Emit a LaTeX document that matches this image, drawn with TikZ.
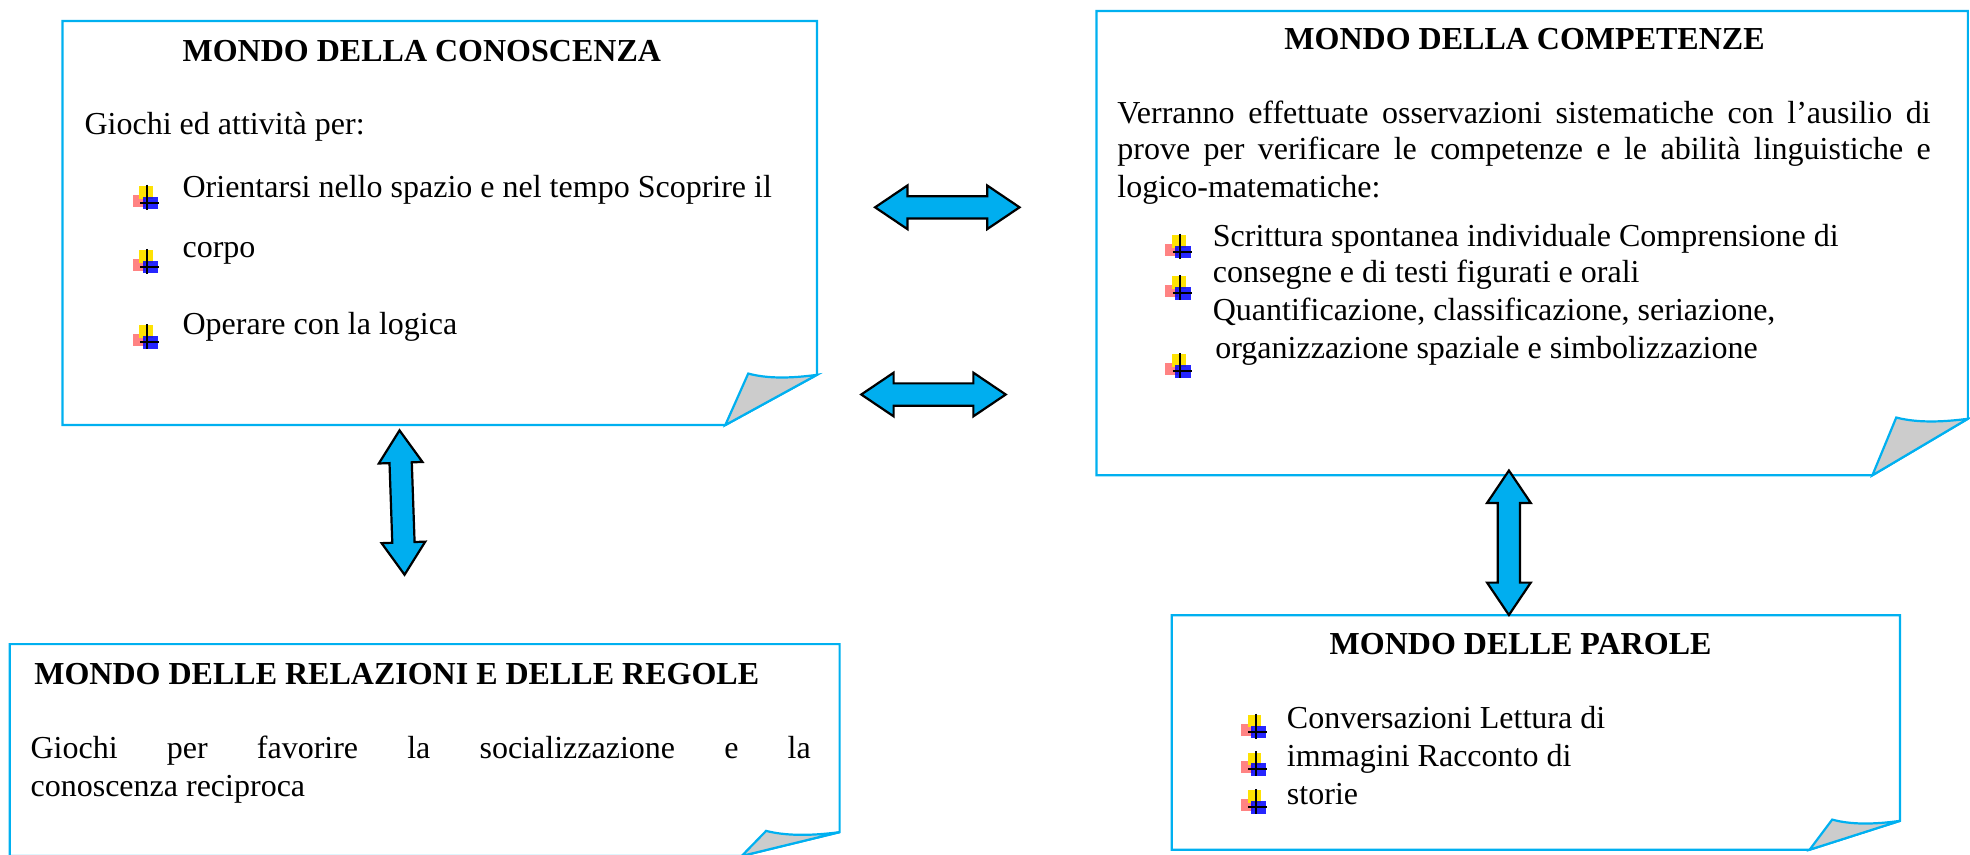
\documentclass[tikz,border=0pt]{standalone}
\usepackage{fontspec}
\setmainfont{Liberation Serif}
\usetikzlibrary{shapes.arrows,positioning,calc}
\definecolor{noteblue}{RGB}{0,176,240}
\definecolor{arrowblue}{RGB}{0,174,239}
\definecolor{foldgray}{RGB}{204,204,204}
\newcommand\bodyfont{\fontsize{14.5}{17}\selectfont}
\newcommand\notefold[3]{%
  \draw[noteline] (#1.north west)--(#1.north east)--($(#1.south east)+(0,-#3)$)--($(#1.south east)+(-#2,0)$)--(#1.south west)--cycle;%%
  \filldraw[noteline,fill=foldgray] ($(#1.south east)+(-#2,0)$)--($(#1.south east)+(-#2*0.75,-#3-1)$) .. controls ($(#1.south east)+(-#2*0.5,-#3+4)$) and ($(#1.south east)+(-#2*0.2,-#3+2)$) .. ($(#1.south east)+(0,-#3)$)--cycle;%%
}
\newcommand\plusmark[1]{%
  \begin{scope}[shift={#1}]
  \fill[red!75,opacity=.65] (-10.5,-2) rectangle (-0.5,7.5);%%
  \fill[yellow!85!orange] (-5,-9) rectangle (6,1);%%
  \fill[blue,opacity=.85] (-2.5,-0.5) rectangle (10,9.5);%%
  \draw[line width=.9pt] (1.3,-10)--(1.3,10) (-4.5,4.3)--(10.5,4.3);%%
  \end{scope}}

\begin{document}
\begin{tikzpicture}[x=0.02cm,y=-0.02cm,
  noteline/.style={draw=noteblue,line width=1pt},
  dbl/.style={double arrow,draw=black,fill=arrowblue,line width=1pt,inner sep=0.16cm,
    minimum height=2.3cm,double arrow head extend=0.17cm,double arrow tip angle=68}]%
        \useasboundingbox (0,0) rectangle (1568,680);%
        \begin{scope}[inner sep=0pt]
        \tikzstyle{every node}=[draw=none,shape=rectangle] %%
        \node[minimum width=12cm,minimum height=6.42cm] (kno) at (350,177.5) {}; %%
        \node[minimum width=13.86cm,minimum height=7.38cm] (com) at (1219.5,193.5) {}; %%
        \node[minimum width=13.2cm,minimum height=3.36cm] (rel) at (338,597) {}; %%
        \node[minimum width=11.58cm,minimum height=3.72cm] (par) at (1222.5,583) {}; %%
        \end{scope}
        \notefold{kno}{73}{40}%
        \notefold{com}{76}{45}%
        \notefold{rel}{78}{19}%
        \notefold{par}{72}{23}%
        \begin{scope}[inner sep=0pt]
        \tikzstyle{every node}=[anchor=base west,font=\bodyfont] %%
        \node (kt) at (145,49) {\bfseries MONDO DELLA CONOSCENZA}; %%
        \node (k0) at (67,107) {Giochi ed attività per:}; %%
        \node (k1) at (145,157) {Orientarsi nello spazio e nel tempo Scoprire il}; %%
        \node (k2) at (145,205) {corpo}; %%
        \node (k3) at (145,266) {Operare con la logica}; %%
        \node (ct) at (1022,39) {\bfseries MONDO DELLA COMPETENZE}; %%
        \node (c0) at (889,98) {\makebox[12.95cm][s]{Verranno effettuate osservazioni sistematiche con l’ausilio di}}; %%
        \node (c1) at (889,127) {\makebox[12.95cm][s]{prove per verificare le competenze e le abilità linguistiche e}}; %%
        \node (c2) at (889,157) {logico-matematiche:}; %%
        \node (c3) at (965,196) {Scrittura spontanea individuale Comprensione di}; %%
        \node (c4) at (965,225) {consegne e di testi figurati e orali}; %%
        \node (c5) at (965,255) {Quantificazione, classificazione, seriazione,}; %%
        \node (c6) at (967,285) {organizzazione spaziale e simbolizzazione}; %%
        \node (rt) at (27,545) {\bfseries MONDO DELLE RELAZIONI E DELLE REGOLE}; %%
        \node (r0) at (24,604) {\makebox[12.42cm][s]{Giochi per favorire la socializzazione e la}}; %%
        \node (r1) at (24,634) {conoscenza reciproca}; %%
        \node (pt) at (1058,521) {\bfseries MONDO DELLE PAROLE}; %%
        \node (p1) at (1024,580) {Conversazioni Lettura di}; %%
        \node (p2) at (1024,610) {immagini Racconto di}; %%
        \node (p3) at (1024,640) {storie}; %%
        \end{scope}
        \plusmark{(116,157)}\plusmark{(116,208)}\plusmark{(116,268)}%
        \plusmark{(938,196)}\plusmark{(938,229)}\plusmark{(938,291)}%
        \plusmark{(998,578)}\plusmark{(998,608)}\plusmark{(998,638)}%
        \node[dbl] (h1) at (754,165) {}; %%
        \node[dbl] (h2) at (743,314) {}; %%
        \node[dbl,rotate=92] (v1) at (320,400) {}; %%
        \node[dbl,rotate=90] (v2) at (1201,432) {}; %%
        \end{tikzpicture}
\end{document}
